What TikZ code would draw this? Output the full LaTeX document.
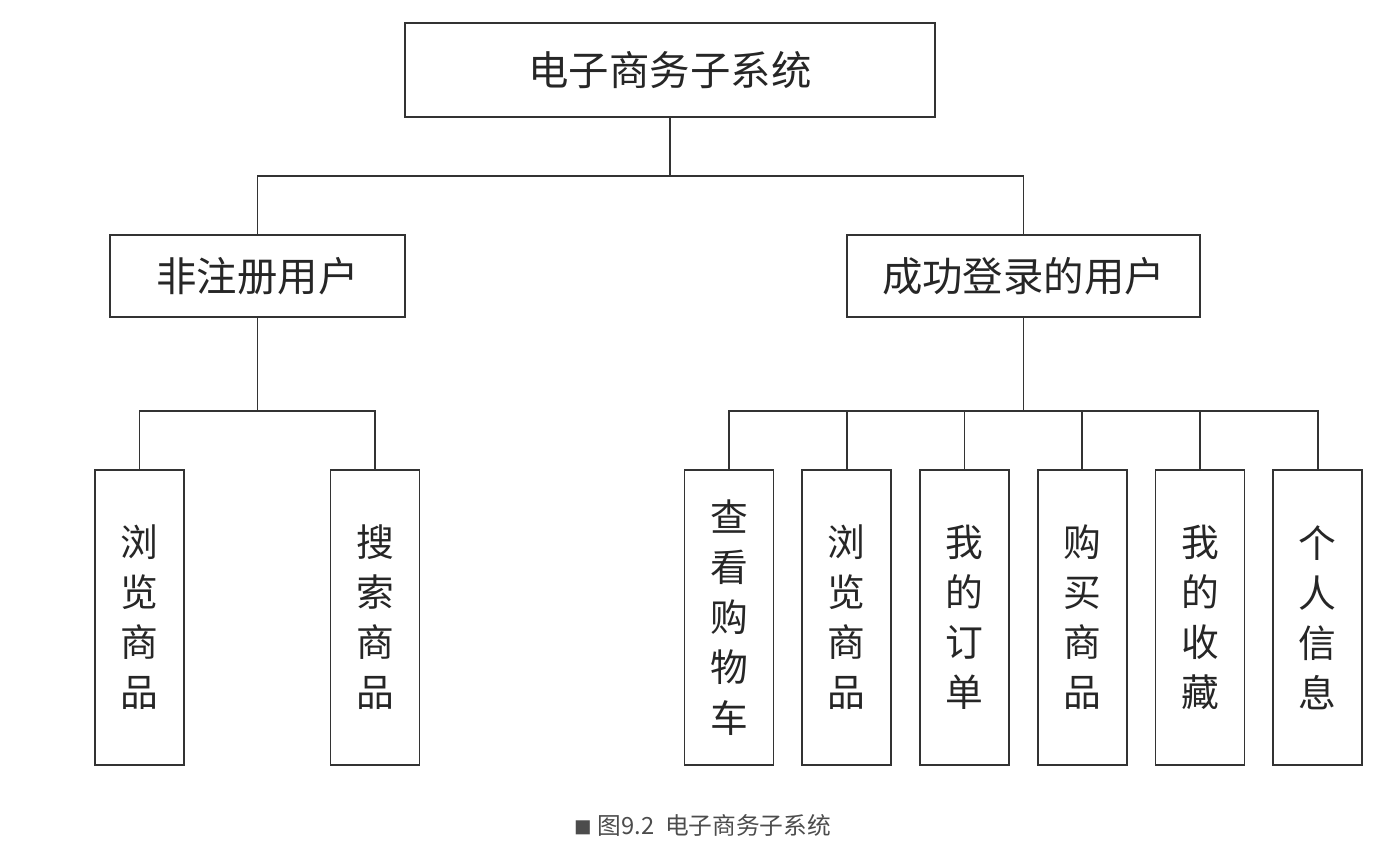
\documentclass[tikz,border=0pt]{standalone}
\usepackage{fontspec}
\setmainfont{Noto Sans CJK SC}
\usepackage{xcolor}
\usetikzlibrary{positioning}

\begin{document}
\begin{tikzpicture}[
    x=0.02cm, y=-0.02cm,
    node distance=0.54cm,
    every node/.style={font=\fontsize{23}{28}\selectfont, text=black!85},
    box/.style={rectangle, draw=black!80, line width=1pt, inner sep=0pt},
    leaf/.style={box, minimum width=1.78cm, minimum height=5.9cm, align=center, font=\fontsize{21.5}{28.5}\selectfont},
    link/.style={draw=black!80, line width=1pt},
    caption/.style={font=\fontsize{13.5}{16}\selectfont, text=black!70}
]
\useasboundingbox (0,0) rectangle (1397,847);
% Top level
\node[box, minimum width=10.6cm, minimum height=1.88cm] (sys) at (670,70) {电子商务子系统};
% Second level
\node[box, minimum width=5.9cm, minimum height=1.64cm] (guest) at (257.5,276) {非注册用户};
\node[box, minimum width=7.06cm, minimum height=1.64cm] (member) at (1023.5,276) {成功登录的用户};
% Leaves of the guest user
\node[leaf] (gbrowse) at (139.5,617.5) {浏\\览\\商\\品};
\node[leaf] (gsearch) at (375,617.5) {搜\\索\\商\\品};
% Leaves of the member
\node[leaf] (mcart) at (729,617.5) {查\\看\\购\\物\\车};
\node[leaf, right=of mcart] (mbrowse) {浏\\览\\商\\品};
\node[leaf, right=of mbrowse] (morder) {我\\的\\订\\单};
\node[leaf, right=of morder] (mbuy) {购\\买\\商\\品};
\node[leaf, right=of mbuy] (mfav) {我\\的\\收\\藏};
\node[leaf, right=of mfav] (minfo) {个\\人\\信\\息};
% Bus points
\coordinate (bus1) at (670,176);
\coordinate (bus2) at (257.5,411);
\coordinate (bus3) at (1023.5,411);
% Connectors
\draw[link] (sys.south) -- (bus1);
\draw[link] (guest.north) |- (bus1) -| (member.north);
\draw[link] (guest.south) -- (bus2);
\draw[link] (gbrowse.north) |- (bus2) -| (gsearch.north);
\draw[link] (member.south) -- (bus3);
\draw[link] (mcart.north) |- (bus3) -| (minfo.north);
\foreach \n in {mbrowse, morder, mbuy, mfav}
  \draw[link] (\n.north) -- (\n.north |- bus3);
% Caption
\node[caption] (cap) at (703,825) {{\fontsize{10}{16}\selectfont■} 图9.2\ \ 电子商务子系统};
\end{tikzpicture}
\end{document}
